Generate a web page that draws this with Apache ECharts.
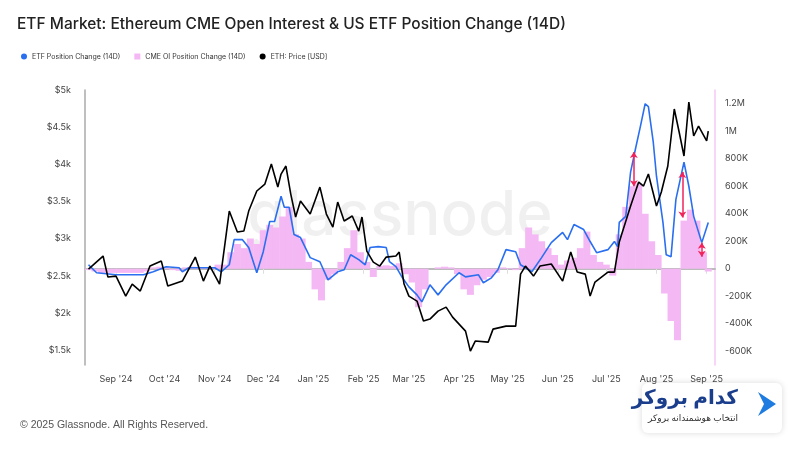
<!DOCTYPE html>
<html><head><meta charset="utf-8">
<script src="https://cdn.jsdelivr.net/npm/echarts@6/dist/echarts.min.js"></script>
<style>html,body{margin:0;padding:0;background:#fff}#c{width:800px;height:450px}</style>
</head><body><div id="c"></div>
<script>
// day offsets from start date 2024-08-15
const startDate = '2024-08-15';
const priceDays = [0,9,12,17,23,27,32,38,45,49,58,66,71,75,81,87,92,96,99,104,109,113,117,119,122,125,128,131,137,143,147,151,154,158,163,167,169,172,176,180,184,190,192,195,198,203,207,211,216,221,225,229,233,236,239,247,250,258,264,267,270,275,279,286,293,298,302,307,310,313,321,325,328,335,340,343,346,351,354,358,362,365,368,371,374,377,382,383];
const priceValues = [2591,2766,2483,2496,2227,2389,2295,2631,2698,2362,2429,2752,2429,2631,2389,3371,3089,3102,3371,3641,3735,4004,3694,3869,3977,3600,3291,3506,3331,3694,3331,3156,3492,3237,3304,3102,3291,2833,2685,2631,2752,2766,2820,2389,2227,2160,1891,1918,2025,2079,1944,1850,1756,1487,1622,1608,1783,1823,1823,2523,2631,2496,2631,2658,2429,2820,2550,2523,2227,2416,2550,2550,2954,3439,3762,3708,3869,3439,3627,3977,4744,4435,4112,4838,4381,4515,4314,4448];
const etfDays = [0,5,17,34,40,48,56,58,62,78,82,87,90,95,99,104,108,112,115,119,121,124,127,131,137,143,148,154,158,162,167,171,174,179,184,186,190,194,198,203,206,211,216,221,229,233,241,244,249,253,258,264,267,274,280,286,293,296,300,306,310,314,321,325,327,328,332,335,338,341,344,346,349,351,355,357,360,363,368,371,374,379,380,383];
const etfValues = [29,-29,-44,-44,-22,15,7,-22,7,7,-22,29,212,212,154,-29,124,344,344,527,447,447,249,227,81,51,-81,-22,-7,102,66,29,154,161,154,51,15,-66,-132,-190,-241,-117,-190,-117,-29,-59,-44,-102,-66,-7,139,124,29,-22,81,190,264,212,322,285,198,117,139,198,161,337,381,703,871,1032,1200,1179,922,673,337,102,88,505,776,600,381,190,190,337];
const cmeDays = [0,4,8,12,16,20,24,28,32,36,40,44,48,52,56,60,64,68,72,76,80,84,88,92,96,100,104,108,112,116,120,124,128,132,136,140,144,148,152,156,160,164,168,172,176,180,184,188,192,196,200,204,208,212,216,220,224,228,232,236,240,244,248,252,256,260,264,268,272,276,280,284,288,292,296,300,304,308,312,316,320,324,328,332,336,340,344,348,352,356,360,364,368,372,376,380,383];
const cmeValues = [-10,-20,-30,-30,-30,-30,-30,-30,-30,-20,10,15,10,-10,-15,10,15,10,5,10,30,30,120,180,150,220,180,280,320,300,380,450,250,220,50,-150,-230,-80,-40,50,150,280,120,50,-60,20,25,20,40,-40,-100,-280,-150,0,10,15,10,-40,-150,-190,-120,-80,-60,-30,10,5,-10,150,300,250,200,150,100,30,60,80,150,270,100,50,30,-50,250,450,600,620,400,200,100,-180,-380,-520,350,430,350,120,-20];
// annotation arrows: [day, fromK, toK]
const arrows = [[337,849,600],[367,703,373],[379,190,88]];

const DAY = 86400000;
const t0 = new Date(startDate + 'T00:00:00Z').getTime();
const d = x => t0 + x*DAY;
const zip = (ds, vs) => ds.map((x,i)=>[d(x), vs[i]]);
const months = ['Jan','Feb','Mar','Apr','May','Jun','Jul','Aug','Sep','Oct','Nov','Dec'];

const chart = echarts.init(document.getElementById('c'));
chart.setOption({
  animation:false,
  textStyle:{fontFamily:'Inter, Roboto, sans-serif'},
  title:{text:'ETF Market: Ethereum CME Open Interest & US ETF Position Change (14D)',left:12,top:11,
    textStyle:{fontSize:15.5,fontWeight:500,color:'#222'}},
  legend:{left:16,top:48,itemWidth:6,itemHeight:6,itemGap:14,textStyle:{fontSize:7,color:'#333'},
    data:[{name:'ETF Position Change (14D)',icon:'circle'},{name:'CME OI Position Change (14D)',icon:'rect'},{name:'ETH: Price [USD]',icon:'circle'}]},
  grid:{left:85,right:85,top:90,bottom:85},
  xAxis:{type:'time',min:d(0),max:d(385),
    splitNumber:12, minInterval:28*DAY,
    axisLine:{lineStyle:{color:'#bbb',width:2}},axisTick:{show:true,lineStyle:{color:'#ddd'}},splitLine:{show:false},
    axisLabel:{fontSize:9,color:'#444',margin:10,hideOverlap:true,formatter:v=>{const t=new Date(v);return months[t.getUTCMonth()]+" '"+String(t.getUTCFullYear()).slice(2);}}},
  yAxis:[
    {type:'value',min:1300,max:5000,interval:100,position:'left',
     axisLine:{show:true,lineStyle:{color:'#aaa',width:1.5}},axisTick:{show:false},splitLine:{show:false},
     axisLabel:{fontSize:9,color:'#444',margin:14,formatter:v=>v%500===0?('$'+(v/1000)+'k'):''}},
    {type:'value',min:-700,max:1300,interval:100,position:'right',
     axisLine:{show:true,lineStyle:{color:'#f6c8f6',width:1.5}},axisTick:{show:false},splitLine:{show:false},
     axisLabel:{fontSize:9,color:'#444',margin:10,formatter:v=>{if(v%200!==0)return '';if(v===0)return '0';if(Math.abs(v)>=1000)return (v/1000)+'M';return v+'K';}}}
  ],
  graphic:[
    {type:'text',left:'center',top:185,z:-1,style:{text:'glassnode',fontSize:62,fontWeight:500,fill:'rgba(0,0,0,0.06)',fontFamily:'Inter, sans-serif'}},
    {type:'text',left:20,top:420,style:{text:'© 2025 Glassnode. All Rights Reserved.',fontSize:10.5,fill:'#555'}},
    {type:'rect',left:642,top:383,shape:{width:140,height:50,r:6},style:{fill:'#fff',shadowBlur:6,shadowColor:'rgba(0,0,0,0.15)'}},
    {type:'text',right:62,top:388,style:{text:'کدام بروکر',fontSize:20,fontWeight:'bold',fill:'#1a3e8c',fontFamily:'Noto Sans, DejaVu Sans'}},
    {type:'text',right:62,top:414,style:{text:'انتخاب هوشمندانه بروکر',fontSize:9,fill:'#333',fontFamily:'Noto Sans, DejaVu Sans'}},
    {type:'polygon',shape:{points:[[758,392],[776,404],[758,416],[764,404]]},style:{fill:'#1e7be0'}}
  ],
  series:[
    {name:'CME OI Position Change (14D)',type:'bar',yAxisIndex:1,data:zip(cmeDays,cmeValues),barWidth:7,barGap:'-100%',itemStyle:{color:'#f4b8f5'}},
    {name:'ETF Position Change (14D)',type:'line',yAxisIndex:1,data:zip(etfDays,etfValues),showSymbol:false,lineStyle:{color:'#2a6ff0',width:1.6},itemStyle:{color:'#2a6ff0'},
     markLine:{silent:true,symbol:['arrow','arrow'],symbolSize:6,lineStyle:{color:'#f0235a',type:'solid',width:1.5},label:{show:false},
       data:arrows.map(a=>[{coord:[d(a[0]),a[1]]},{coord:[d(a[0]),a[2]]}])}},
    {name:'ETH: Price [USD]',type:'line',yAxisIndex:0,data:zip(priceDays,priceValues),showSymbol:false,lineStyle:{color:'#000',width:1.6},itemStyle:{color:'#000'},z:3}
  ]
});
</script></body></html>
